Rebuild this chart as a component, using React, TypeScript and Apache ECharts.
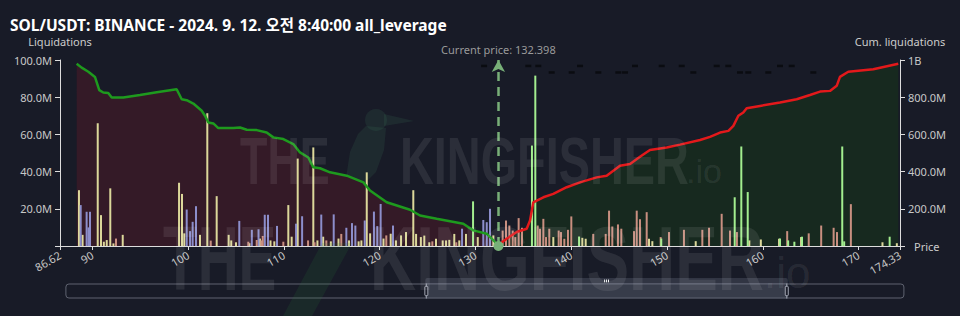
import React, { useEffect, useRef } from 'react';
import * as echarts from 'echarts';

const TITLE = 'SOL/USDT: BINANCE - 2024. 9. 12. 오전 8:40:00 all_leverage';
const priceMin = 86.62;
const priceMax = 174.33;
const currentPrice = 132.398;

// [price, liquidations in millions]
const yellowBars: [number, number][] = [
  [88.6, 30], [88.98, 6], [90.56, 66], [90.9, 16.6], [91.2, 2.3], [91.5, 3.2], [91.87, 31], [92.2, 1.4],
  [93.17, 6], [99.05, 34], [99.36, 28], [99.6, 6.8], [101.24, 6], [102.0, 71.4], [102.98, 26.8],
  [104.23, 6], [104.5, 3], [105.0, 2], [106.4, 1.5], [107.5, 4], [108.6, 3], [109.0, 2.5],
  [110.46, 22], [110.81, 5], [111.44, 47], [113.07, 53], [113.5, 3], [114.1, 5], [114.9, 2.5],
  [115.7, 4], [116.8, 3], [117.8, 2.5], [118.09, 3], [118.65, 39.6], [119.0, 6.8], [120.4, 4],
  [121.15, 6.6], [121.7, 3], [122.23, 5.7], [122.75, 7.5], [123.51, 30], [123.8, 6.5], [124.3, 4.8],
  [124.66, 5.6], [125.18, 2], [125.88, 3.9], [126.58, 3], [126.93, 3], [127.27, 3.3], [127.79, 6.5],
  [128.31, 3], [129.01, 6.5], [130.24, 4.8], [131.87, 5.7], [138.13, 4.8], [141.16, 4.4], [141.51, 3.9],
  [148.12, 3.9], [148.47, 2.6], [153.0, 2.6], [158.6, 3], [159.8, 3.5], [161.7, 3.9], [164.0, 4.8],
  [172.5, 2], [174.0, 1.5],
];
const lavenderBars: [number, number][] = [
  [88.78, 22], [89.4, 18.4], [89.6, 10], [89.75, 18.4], [99.85, 19.6], [100.2, 8], [100.47, 13],
  [100.82, 21.4], [105.34, 13.5], [106.65, 8.7], [107.35, 9], [108.0, 16.8], [108.34, 16.8],
  [109.28, 10.8], [111.27, 12], [111.9, 16], [113.9, 16.9], [115.2, 17], [116.52, 9.8], [117.11, 12.3],
  [117.46, 11], [118.44, 13.7], [119.4, 18.5], [119.75, 10.7], [120.1, 22.6], [121.39, 11], [128.6, 9.3],
  [130.82, 14], [131.18, 12.8], [131.52, 20],
];
const salmonBars: [number, number][] = [
  [92.47, 4], [102.36, 2.9], [106.28, 2.3], [107.16, 3.2], [107.64, 3], [107.79, 5.4], [109.94, 2.3],
  [112.52, 3], [113.2, 2], [114.43, 3], [115.99, 6.5], [120.69, 5.7], [125.5, 2.5], [128.0, 2],
  [132.84, 8.3], [133.19, 13.7], [133.54, 11], [133.89, 8.3], [134.16, 4.8], [134.51, 15], [134.86, 9.8],
  [136.5, 11], [136.74, 9.3], [137.09, 14.6], [137.37, 4.8], [137.71, 9.3], [138.69, 8.3], [138.93, 7.5],
  [139.28, 3.9], [139.66, 8.7], [140.01, 15.9], [142.3, 6.5], [143.6, 6.5], [143.95, 19], [144.29, 10.5],
  [144.88, 11.6], [145.23, 9.3], [146.56, 8], [146.84, 19], [147.18, 14.4], [147.88, 18.2], [149.34, 4.8],
  [150.21, 7.5], [151.77, 8.7], [153.69, 8.7], [154.39, 9.8], [155.71, 17.3], [156.58, 8.3], [157.3, 7.5],
  [162.55, 8], [164.8, 6.8], [166.1, 11], [167.4, 9.8], [167.75, 7.5], [169.2, 22.5],
];
const greenBars: [number, number][] = [
  [129.75, 24], [135.9, 54], [136.25, 91.6], [140.82, 5.1], [149.4, 4], [157.07, 26.2], [157.76, 53.5],
  [158.43, 29], [161.8, 4], [162.65, 3], [163.3, 2.3], [164.1, 5], [168.3, 53.5], [168.5, 2.5], [173.25, 5],
];

// [price, cumulative liquidations in millions]
const longCumLine: [number, number][] = [
  [88.36, 980], [88.88, 959], [89.58, 937], [90.27, 909], [90.72, 838], [91.14, 825], [91.66, 823],
  [92.02, 798], [93.23, 798], [94.97, 812], [96.72, 827], [98.8, 843], [99.33, 789], [99.85, 784],
  [100.54, 766], [101.42, 727], [101.76, 700], [102.11, 664], [102.63, 659], [103.15, 634], [104.72, 634],
  [105.42, 637], [106.12, 625], [107.16, 623], [108.2, 610], [108.89, 584], [109.94, 575], [110.98, 548],
  [111.68, 503], [112.55, 476], [113.07, 423], [113.77, 418], [114.81, 396], [116.56, 378], [118.3, 342],
  [118.99, 298], [120.73, 235], [123.17, 195], [124.21, 164], [125.95, 146], [128.73, 120], [129.77, 84],
  [131.17, 66], [132.4, 3],
];
const shortCumLine: [number, number][] = [
  [132.4, 0], [132.56, 12], [133.26, 39], [134.31, 75], [135.35, 93], [135.7, 137], [136.04, 235],
  [137.09, 262], [138.13, 280], [139.53, 316], [140.92, 342], [142.66, 369], [143.7, 378], [145.09, 432],
  [146.14, 441], [147.18, 480], [148.22, 516], [149.97, 530], [151.36, 545], [153.45, 570], [154.49, 587],
  [155.54, 610], [156.41, 619], [156.93, 646], [157.45, 700], [157.97, 718], [158.32, 741], [159.71, 753],
  [161.8, 771], [163.54, 789], [164.93, 812], [165.98, 830], [167.02, 834], [167.72, 861], [168.06, 909],
  [168.93, 937], [171.54, 950], [174.15, 980],
];

// dark markers along the top
const topDashesHigh: number[] = [130.9, 135.52, 136.56, 140.92, 146.66, 149.45, 151.54, 155.19, 156.4, 161.8, 163.02];
const topDashesLow: number[] = [137.96, 140.05, 142.83, 144.92, 145.62, 152.75, 157.62, 158.49, 160.58, 165.28];
const dashHighValue = 96.8;
const dashLowValue = 93.3;

const FONT = '"Noto Sans", "Noto Sans CJK KR", sans-serif';
const WM_FONT = '"Liberation Sans", Arial, sans-serif';
const M = 1e6;

const fmtAxis = (v: number) => {
  if (v === 0) return '';
  if (v >= 1e9) return v / 1e9 + 'B';
  return (v / 1e6).toFixed(1) + 'M';
};

const barSeries = (data: [number, number][], color: string) => ({
  type: 'bar',
  yAxisIndex: 0,
  barWidth: 2,
  barGap: '-100%',
  z: 2,
  silent: true,
  itemStyle: { color },
  data: data.map(([p, v]) => [p, v * M]),
});

export default function App() {
  const ref = useRef<HTMLDivElement>(null);
  useEffect(() => {
    const chart = echarts.init(ref.current!, null, { renderer: 'svg' });
    const wm = 'rgba(255,255,255,0.085)';
    const wmText = (text: string, x: number, y: number, size: number, scaleX: number, bold: boolean) => ({
      type: 'text',
      z: 100,
      silent: true,
      x,
      y,
      scaleX,
      style: {
        text,
        fill: wm,
        fontSize: size,
        fontWeight: bold ? 'bold' : 'normal',
        fontFamily: WM_FONT,
        align: 'left',
        verticalAlign: 'middle',
      },
    });
    const option: any = {
      animation: false,
      backgroundColor: '#181b27',
      textStyle: { fontFamily: FONT },
      title: {
        text: TITLE,
        left: 10,
        top: 18,
        padding: 0,
        textStyle: { color: '#ffffff', fontSize: 15.5, lineHeight: 14, fontWeight: 'bold', fontFamily: FONT },
      },
      grid: { left: 60, right: 60, top: 60, bottom: 70 },
      xAxis: [
        {
          type: 'value',
          min: priceMin,
          max: priceMax,
          splitNumber: 9,
          name: 'Price',
          nameLocation: 'end',
          nameGap: 14,
          nameTextStyle: { color: '#cccccc', fontSize: 11 },
          axisLine: { show: true, onZero: false, lineStyle: { color: '#dddddd' } },
          axisTick: { show: true, length: 4, lineStyle: { color: '#dddddd' } },
          axisLabel: {
            color: '#c8c8c8',
            fontSize: 11,
            rotate: 30,
            showMinLabel: true,
            showMaxLabel: true,
            formatter: (v: number) => String(Math.round(v * 100) / 100),
          },
          splitLine: { show: false },
        },
        { type: 'value', show: false, min: 0, max: 100 },
      ],
      yAxis: [
        {
          type: 'value',
          position: 'left',
          min: 0,
          max: 100 * M,
          interval: 20 * M,
          name: 'Liquidations',
          nameLocation: 'end',
          nameGap: 13,
          nameTextStyle: { color: '#cccccc', fontSize: 11, align: 'center' },
          axisLine: { show: true, lineStyle: { color: '#dddddd' } },
          axisTick: { show: true, length: 5, lineStyle: { color: '#dddddd' } },
          axisLabel: { color: '#c8c8c8', fontSize: 11, formatter: fmtAxis },
          splitLine: { show: false },
        },
        {
          type: 'value',
          position: 'right',
          min: 0,
          max: 1000 * M,
          interval: 200 * M,
          name: 'Cum. liquidations',
          nameLocation: 'end',
          nameGap: 13,
          nameTextStyle: { color: '#cccccc', fontSize: 11, align: 'center' },
          axisLine: { show: true, lineStyle: { color: '#dddddd' } },
          axisTick: { show: true, length: 5, lineStyle: { color: '#dddddd' } },
          axisLabel: { color: '#c8c8c8', fontSize: 11, formatter: fmtAxis },
          splitLine: { show: false },
        },
      ],
      dataZoom: [
        {
          type: 'slider',
          xAxisIndex: 1,
          start: 42.9,
          end: 86.1,
          left: 63,
          right: 58,
          top: 278,
          height: 15,
          showDetail: false,
          showDataShadow: false,
          borderColor: '#5f6370',
          borderRadius: 3,
          backgroundColor: 'rgba(0,0,0,0)',
          fillerColor: 'rgba(170,178,200,0.22)',
          handleStyle: { color: '#1c1f2b', borderColor: '#a0a4b0' },
          moveHandleSize: 6,
          moveHandleStyle: { color: 'rgba(170,178,200,0.35)' },
          emphasis: { moveHandleStyle: { color: 'rgba(170,178,200,0.35)' } },
        },
      ],
      series: [
        {
          type: 'line',
          yAxisIndex: 1,
          z: 1,
          silent: true,
          showSymbol: false,
          lineStyle: { opacity: 0 },
          areaStyle: { color: '#341a27', opacity: 1 },
          data: longCumLine.map(([p, v]) => [p, v * M]),
        },
        {
          type: 'line',
          yAxisIndex: 1,
          z: 1,
          silent: true,
          showSymbol: false,
          lineStyle: { opacity: 0 },
          areaStyle: { color: '#17291f', opacity: 1 },
          data: shortCumLine.map(([p, v]) => [p, v * M]),
        },
        {
          ...barSeries(yellowBars, '#dcd89a'),
          markLine: {
            silent: true,
            symbol: ['circle', 'arrow'],
            symbolSize: [10, 12],
            lineStyle: { color: '#78b078', width: 2.5, type: [9, 6] },
            label: {
              show: true,
              position: 'end',
              formatter: 'Current price: ' + currentPrice,
              color: '#9a9a9a',
              fontSize: 11,
              distance: 5,
            },
            data: [[{ coord: [currentPrice, 0] }, { coord: [currentPrice, 100 * M] }]],
          },
        },
        barSeries(lavenderBars, '#8c8ecb'),
        barSeries(salmonBars, '#c98f80'),
        barSeries(greenBars, '#a3ee8f'),
        {
          type: 'scatter',
          yAxisIndex: 0,
          silent: true,
          symbol: 'rect',
          symbolSize: [6, 2.5],
          itemStyle: { color: '#08090c' },
          z: 3,
          data: [
            ...topDashesHigh.map((p) => [p, dashHighValue * M]),
            ...topDashesLow.map((p) => [p, dashLowValue * M]),
          ],
        },
        {
          type: 'line',
          yAxisIndex: 1,
          z: 4,
          silent: true,
          showSymbol: false,
          lineStyle: { color: '#1e9a1e', width: 2.5 },
          data: longCumLine.map(([p, v]) => [p, v * M]),
        },
        {
          type: 'line',
          yAxisIndex: 1,
          z: 4,
          silent: true,
          showSymbol: false,
          lineStyle: { color: '#e3191b', width: 2.5 },
          data: shortCumLine.map(([p, v]) => [p, v * M]),
        },
      ],
      graphic: [
        // kingfisher silhouette (middle watermark)
        {
          type: 'group',
          z: 100,
          silent: true,
          children: [
            { type: 'circle', shape: { cx: 376, cy: 120, r: 11 }, style: { fill: 'rgba(60,125,95,0.16)' } },
            { type: 'polygon', shape: { points: [[384, 114], [414, 121], [384, 126]] }, style: { fill: 'rgba(60,125,95,0.16)' } },
            { type: 'polygon', shape: { points: [[366, 126], [386, 128], [384, 150], [376, 172], [362, 186], [350, 194], [346, 178], [350, 152], [358, 134]] }, style: { fill: 'rgba(60,125,95,0.16)' } },
          ],
        },
        {
          type: 'polygon',
          z: 100,
          silent: true,
          shape: { points: [[322, 243], [352, 243], [312, 316], [283, 316]] },
          style: { fill: 'rgba(40,130,60,0.14)' },
        },
        wmText('THE', 240, 161, 66, 0.68, true),
        wmText('KINGFISHER', 400, 161, 66, 0.71, true),
        wmText('.io', 686, 171, 34, 1, false),
        wmText('THE', 163, 259, 90, 0.63, true),
        wmText('KINGFISHER', 370, 259, 90, 0.71, true),
        wmText('.io', 764, 272, 44, 1, false),
      ],
    };
    chart.setOption(option);
    return () => chart.dispose();
  }, []);
  return <div ref={ref} style={{ position: 'fixed', left: 0, top: 0, width: 960, height: 316 }} />;
}
